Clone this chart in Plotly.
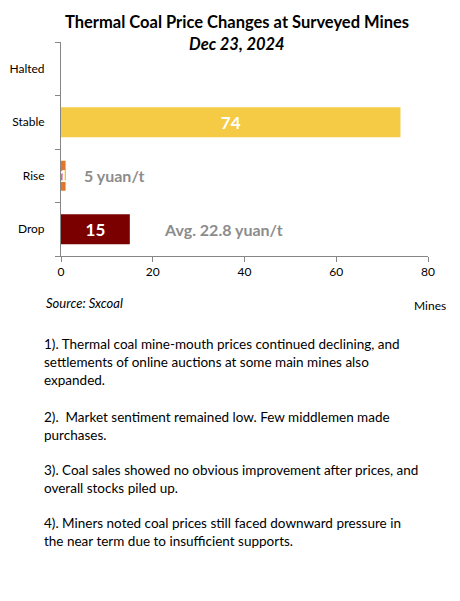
import plotly.graph_objects as go

categories = ["Halted", "Stable", "Rise", "Drop"]
mines = [0, 74, 1, 15]
bar_colors = ["#7f7f7f", "#F5CB45", "#E2762A", "#7A0000"]
value_labels = ["", "74", "1", "15"]

# price change notes beside bars
note_cats = ["Rise", "Drop"]
note_x = [4.5, 22]
note_text = ["5 yuan/t", "Avg. 22.8 yuan/t"]

x_ticks = [0, 20, 40, 60, 80]

paragraphs = [
    ["1). Thermal coal mine-mouth prices continued declining, and",
     "settlements of online auctions at some main mines also",
     "expanded."],
    ["2).  Market sentiment remained low. Few middlemen made",
     "purchases."],
    ["3). Coal sales showed no obvious improvement after prices, and",
     "overall stocks piled up."],
    ["4). Miners noted coal prices still faced downward pressure in",
     "the near term due to insufficient supports."],
]
para_y = [344, 417, 470, 523]

FONT = "Lato"

# page body has an 8px margin in the browser, so shrink the figure to fit
OFF = 8
W, H = 460 - OFF, 601 - 2 * OFF
L, T = 61 - OFF, 42 - OFF
R, B = 460 - 428, 601 - OFF - 256
pw, ph = W - L - R, H - T - B


def px2paper(px_x, px_y):
    return (px_x - OFF - L) / pw, 1 - (px_y - OFF - T) / ph


fig = go.Figure()
fig.add_trace(go.Bar(
    x=mines, y=categories, orientation="h",
    marker=dict(color=bar_colors, line=dict(width=0)),
    text=value_labels, textposition="inside", insidetextanchor="middle",
    constraintext="none",
    textfont=dict(family=FONT, size=17, color="white", weight="bold"),
    width=0.56, hoverinfo="skip",
))

for c, xv, t in zip(note_cats, note_x, note_text):
    fig.add_annotation(x=xv, y=c, text=t, showarrow=False, xanchor="left",
                       font=dict(family=FONT, size=16, color="#8c8c8c", weight="bold"))

# text placed by pixel position in the reference: (text, x, y, xanchor, size)
page_texts = [
    ("<b>Thermal Coal Price Changes at Surveyed Mines</b>", 237, 22, "center", 16.5),
    ("<b><i>Dec 23, 2024</i></b>", 237, 44, "center", 16.5),
    ("<i>Source: Sxcoal</i>", 44, 303, "left", 13),
    ("Mines", 448, 305, "right", 12),
]
for lines, yy in zip(paragraphs, para_y):
    for i, line in enumerate(lines):
        page_texts.append((line, 42, yy + 18 * i, "left", 13.5))

for t, xx, yy, xa, sz in page_texts:
    ax, ay = px2paper(xx, yy)
    fig.add_annotation(xref="paper", yref="paper", x=ax, y=ay, xanchor=xa,
                       yanchor="middle", align="left", text=t, showarrow=False,
                       font=dict(family=FONT, size=sz, color="black"))

fig.update_layout(
    width=W, height=H, margin=dict(l=L, r=R, t=T, b=B, autoexpand=False),
    paper_bgcolor="white", plot_bgcolor="white",
    showlegend=False, bargap=0.44,
    font=dict(family=FONT, size=12, color="black"),
    xaxis=dict(range=[0, 80], tickvals=x_ticks, showgrid=False, zeroline=False,
               showline=True, linecolor="#868686", linewidth=1,
               ticks="outside", ticklen=5, tickcolor="#868686", automargin=False,
               tickfont=dict(size=12, color="black")),
    yaxis=dict(categoryorder="array", categoryarray=categories[::-1],
               showgrid=False, zeroline=False, showline=True, automargin=False,
               linecolor="#868686", linewidth=1, ticks="outside", ticklen=5,
               tickcolor="#868686", tickson="boundaries",
               ticklabelstandoff=13, tickfont=dict(size=12, color="black")),
)

fig.write_html("out.html")
